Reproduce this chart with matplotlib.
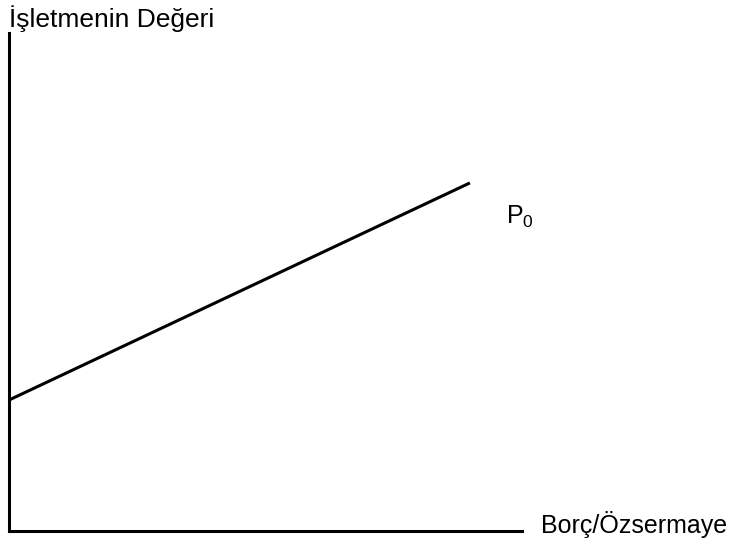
import matplotlib
matplotlib.use("Agg")
import matplotlib.pyplot as plt

plt.rcParams['font.family'] = ['Liberation Sans', 'DejaVu Sans']
plt.rcParams['mathtext.fontset'] = 'custom'
plt.rcParams['mathtext.rm'] = 'Liberation Sans'
plt.rcParams['mathtext.it'] = 'Liberation Sans'

# borç/özsermaye oranı ve işletme değeri
borc_ozsermaye = [0, 10]
isletme_degeri = [26.3, 69.9]
egri_etiketi = "P$_0$"
x_etiketi = "Borç/Özsermaye"
y_etiketi = "İşletmenin Değeri"

W, H = 732, 544
fig = plt.figure(figsize=(W / 100, H / 100), dpi=100)
ax = fig.add_axes([9 / W, 13 / H, 513 / W, 498 / H])

ax.plot(borc_ozsermaye, isletme_degeri, color='black', lw=2.2,
        solid_capstyle='butt')
ax.set_xlim(0, 11.13)
ax.set_ylim(0, 100)

for s in ['top', 'right']:
    ax.spines[s].set_visible(False)
for s in ['left', 'bottom']:
    ax.spines[s].set_linewidth(2.2)
ax.set_xticks([])
ax.set_yticks([])
ax.patch.set_alpha(0)

fig.text(506 / W, 1 - 224 / H, egri_etiketi, fontsize=18, ha='left', va='baseline')
fig.text(541 / W, 1 - 533 / H, x_etiketi, fontsize=18, ha='left', va='baseline')
fig.text(9 / W, 1 - 27 / H, y_etiketi, fontsize=19, ha='left', va='baseline')

fig.savefig('out.png', dpi=100)
